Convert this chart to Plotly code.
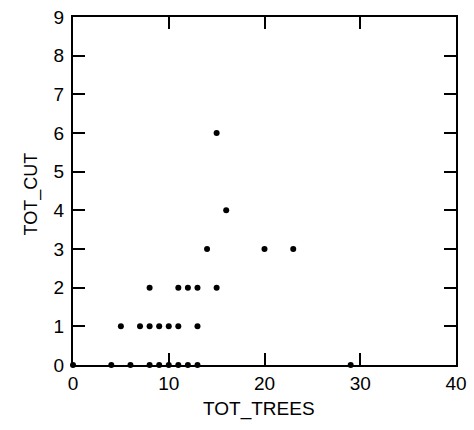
import plotly.graph_objects as go

tot_trees = [0, 4, 6, 8, 9, 10, 11, 12, 13, 29,
             5, 7, 8, 9, 10, 11, 13,
             8, 11, 12, 13, 15,
             14, 20, 23,
             16,
             15]
tot_cut = [0, 0, 0, 0, 0, 0, 0, 0, 0, 0,
           1, 1, 1, 1, 1, 1, 1,
           2, 2, 2, 2, 2,
           3, 3, 3,
           4,
           6]
x_ticks = [0, 10, 20, 30, 40]
y_ticks = [0, 1, 2, 3, 4, 5, 6, 7, 8, 9]

FONT = "Liberation Sans, Arial, sans-serif"

fig = go.Figure(go.Scatter(
    x=tot_trees, y=tot_cut, mode="markers",
    marker=dict(color="black", size=6, line=dict(width=0)),
    cliponaxis=False, showlegend=False, hoverinfo="skip",
))

axis_common = dict(
    showgrid=False, zeroline=False, showline=True, linecolor="black", linewidth=2,
    mirror="ticks", ticks="inside", ticklen=12, tickwidth=2, tickcolor="black",
    tickfont=dict(family=FONT, size=19, color="black"),
    ticklabeloverflow="allow",
)
fig.update_xaxes(range=[0, 40], tickvals=x_ticks, ticktext=[str(v) for v in x_ticks],
                 ticklabelstandoff=0, **axis_common)
fig.update_yaxes(range=[0, 9], tickvals=y_ticks, ticktext=[str(v) for v in y_ticks],
                 ticklabelstandoff=3, **axis_common)

fig.update_layout(
    width=474, height=430,
    margin=dict(l=73, r=7, t=14, b=65),
    paper_bgcolor="white", plot_bgcolor="white",
    annotations=[
        dict(text="TOT_TREES", xref="paper", yref="paper", x=0.485, y=0,
             xanchor="center", yanchor="middle", yshift=-44, showarrow=False,
             font=dict(family=FONT, size=19, color="black")),
        dict(text="TOT_CUT", xref="paper", yref="paper", x=0, y=0.49,
             xanchor="center", yanchor="middle", xshift=-42, textangle=-90,
             showarrow=False, font=dict(family=FONT, size=18, color="black")),
    ],
)

fig.write_html("out.html", config={"displayModeBar": False},
               post_script="document.body.style.margin='0';document.body.style.overflow='hidden';")
